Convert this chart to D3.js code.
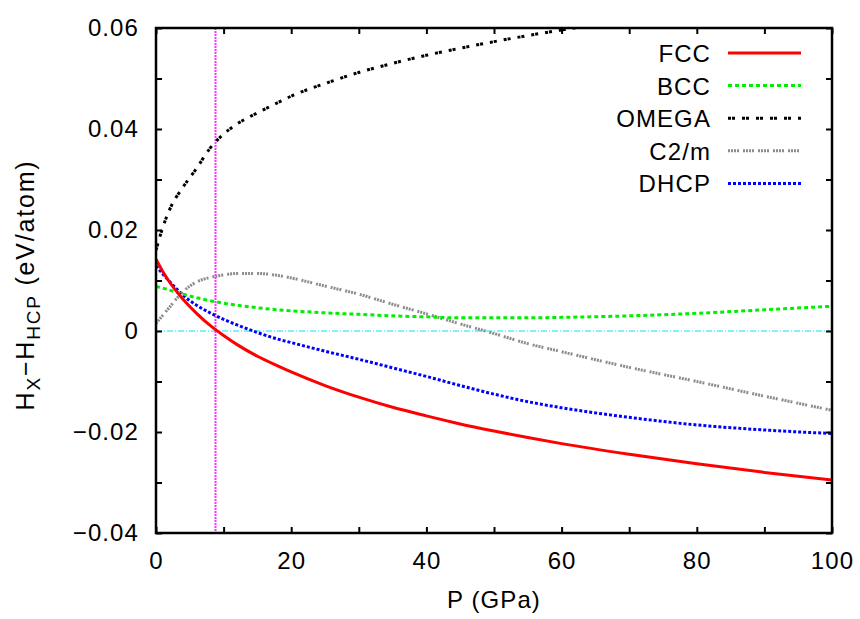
<!DOCTYPE html>
<html>
<head>
<meta charset="utf-8">
<script src="https://cdn.jsdelivr.net/npm/d3@7"></script>
<style>
  body { margin: 0; background: #fff; }
  text { font-family: "Liberation Sans", Arial, Helvetica, sans-serif; fill: #000; letter-spacing: 1.1px; }
</style>
</head>
<body>
<div id="chart"></div>
<script>
// pressure grid (GPa) and enthalpy differences vs HCP (eV/atom)
var pressure = [0, 1, 2, 4, 6, 8, 10, 12, 15, 18, 20, 25, 30, 35, 40, 45, 50, 55, 60, 70, 80, 90, 100];
var fcc   = [0.0142, 0.0118, 0.0097, 0.0063, 0.0035, 0.0011, -0.0009, -0.0027, -0.0050, -0.0069, -0.0081, -0.0108, -0.0131, -0.0151, -0.0168, -0.0184, -0.0198, -0.0211, -0.0223, -0.0244, -0.0263, -0.0280, -0.0295];
var bcc   = [0.0088, 0.0085, 0.0081, 0.0073, 0.0066, 0.0060, 0.0055, 0.0051, 0.0046, 0.0042, 0.0040, 0.0036, 0.0033, 0.0030, 0.0028, 0.0026, 0.0026, 0.0026, 0.0027, 0.0030, 0.0035, 0.0042, 0.0049];
var omega = [0.0160, 0.0205, 0.0240, 0.0285, 0.0322, 0.0362, 0.0390, 0.0410, 0.0432, 0.0452, 0.0465, 0.0490, 0.0512, 0.0530, 0.0546, 0.0560, 0.0573, 0.0585, 0.0596, 0.0617, 0.0636, 0.0654, 0.0670];
var c2m   = [0.0015, 0.0031, 0.0047, 0.0078, 0.0097, 0.0106, 0.0111, 0.0114, 0.0114, 0.0110, 0.0105, 0.0089, 0.0073, 0.0053, 0.0034, 0.0014, -0.0005, -0.0025, -0.0041, -0.0072, -0.0100, -0.0129, -0.0157];
var dhcp  = [0.0129, 0.0113, 0.0098, 0.0071, 0.0051, 0.0036, 0.0023, 0.0012, -0.0003, -0.0016, -0.0023, -0.0040, -0.0056, -0.0073, -0.0090, -0.0108, -0.0125, -0.0140, -0.0152, -0.0171, -0.0186, -0.0196, -0.0203];

var seriesNames = ["FCC", "BCC", "OMEGA", "C2/m", "DHCP"];
var seriesValues = [fcc, bcc, omega, c2m, dhcp];
var seriesColors = ["#ff0000", "#00ee00", "#000000", "#8c8c8c", "#0000ff"];
var seriesDash = [null, "4,3", "3,1,3,7", "2,1,2,1,2,1,2,4", "3,2"];

var transitionP = 8.8;

var xTicks = [0, 20, 40, 60, 80, 100];
var xMinor = [10, 30, 50, 70, 90];
var yTicks = [0.06, 0.04, 0.02, 0, -0.02, -0.04];
var yTickLabels = ["0.06", "0.04", "0.02", "0", "\u22120.02", "\u22120.04"];
var yMinor = [0.05, 0.03, 0.01, -0.01, -0.03];

var svgWidth = 860;
var svgHeight = 619;
var margin = { top: 28, right: 28, bottom: 86, left: 156 };
var width = svgWidth - margin.left - margin.right;
var height = svgHeight - margin.top - margin.bottom;

var svg = d3.select("#chart")
  .append("svg")
  .attr("width", svgWidth)
  .attr("height", svgHeight);

var chart = svg.append("g")
  .attr("transform", `translate(${margin.left}, ${margin.top})`);

var x = d3.scaleLinear().domain([0, 100]).range([0, width]);
var y = d3.scaleLinear().domain([-0.04, 0.06]).range([height, 0]);

chart.append("clipPath")
  .attr("id", "plot-clip")
  .append("rect")
  .attr("width", width)
  .attr("height", height);

// zero line (cyan dash-dot)
chart.append("line")
  .attr("x1", 0).attr("x2", width)
  .attr("y1", y(0)).attr("y2", y(0))
  .attr("stroke", "#00e8f0")
  .attr("stroke-width", 1)
  .attr("stroke-dasharray", "6,2,1,2");

// transition pressure (magenta dotted)
chart.append("line")
  .attr("x1", x(transitionP)).attr("x2", x(transitionP))
  .attr("y1", 0).attr("y2", height)
  .attr("stroke", "#ff33ff")
  .attr("stroke-width", 2)
  .attr("stroke-dasharray", "2,1");

var line = d3.line()
  .x(function(d, i) { return x(pressure[i]); })
  .y(function(d) { return y(d); })
  .curve(d3.curveMonotoneX);

var curves = chart.append("g").attr("clip-path", "url(#plot-clip)");
// draw in reverse so FCC ends up on top
for (var s = seriesValues.length - 1; s >= 0; s--) {
  curves.append("path")
    .datum(seriesValues[s])
    .attr("fill", "none")
    .attr("stroke", seriesColors[s])
    .attr("stroke-width", 3)
    .attr("stroke-dasharray", seriesDash[s])
    .attr("d", line);
}

// axes: inward ticks on all four sides
function styleAxis(g) {
  g.select(".domain").remove();
  g.selectAll("line").attr("stroke", "#000").attr("stroke-width", 2);
  g.selectAll("text").style("font-size", "24px").attr("fill", "#000");
}

chart.append("g")
  .attr("transform", `translate(0, ${height})`)
  .call(d3.axisBottom(x).tickValues(xTicks.concat(xMinor)).tickSize(-6).tickPadding(19)
    .tickFormat(function(d) { return xTicks.indexOf(d) >= 0 ? d : ""; }))
  .call(styleAxis);

chart.append("g")
  .call(d3.axisTop(x).tickValues(xTicks.concat(xMinor)).tickSize(-6).tickFormat(""))
  .call(styleAxis);

chart.append("g")
  .call(d3.axisLeft(y).tickValues(yTicks.concat(yMinor)).tickSize(-6).tickPadding(17)
    .tickFormat(function(d) {
      var i = yTicks.indexOf(d);
      return i >= 0 ? yTickLabels[i] : "";
    }))
  .call(styleAxis);

chart.append("g")
  .attr("transform", `translate(${width}, 0)`)
  .call(d3.axisRight(y).tickValues(yTicks.concat(yMinor)).tickSize(-6).tickFormat(""))
  .call(styleAxis);

// frame
chart.append("rect")
  .attr("width", width)
  .attr("height", height)
  .attr("fill", "none")
  .attr("stroke", "#000")
  .attr("stroke-width", 2.5);

// legend
var legend = chart.append("g")
  .attr("transform", `translate(${711 - margin.left}, ${62 - margin.top})`);

seriesNames.forEach(function(name, i) {
  var row = legend.append("g").attr("transform", `translate(0, ${i * 32.6})`);
  row.append("text")
    .attr("text-anchor", "end")
    .style("font-size", "24px")
    .text(name);
  row.append("line")
    .attr("x1", 17).attr("x2", 90)
    .attr("y1", -9).attr("y2", -9)
    .attr("stroke", seriesColors[i])
    .attr("stroke-width", 3)
    .attr("stroke-dasharray", seriesDash[i]);
});

// axis titles
svg.append("text")
  .attr("x", 494)
  .attr("y", 608)
  .attr("text-anchor", "middle")
  .style("font-size", "24px")
  .text("P (GPa)");

var yTitle = svg.append("text")
  .attr("transform", "translate(34, 285) rotate(-90)")
  .attr("text-anchor", "middle")
  .style("font-size", "25px")
  .style("letter-spacing", "1.8px");
yTitle.append("tspan").text("H");
yTitle.append("tspan").attr("dy", 6).style("font-size", "19px").text("X");
yTitle.append("tspan").attr("dy", -6).text("\u2212H");
yTitle.append("tspan").attr("dy", 6).style("font-size", "19px").text("HCP");
yTitle.append("tspan").attr("dy", -6).text(" (eV/atom)");
</script>
</body>
</html>
